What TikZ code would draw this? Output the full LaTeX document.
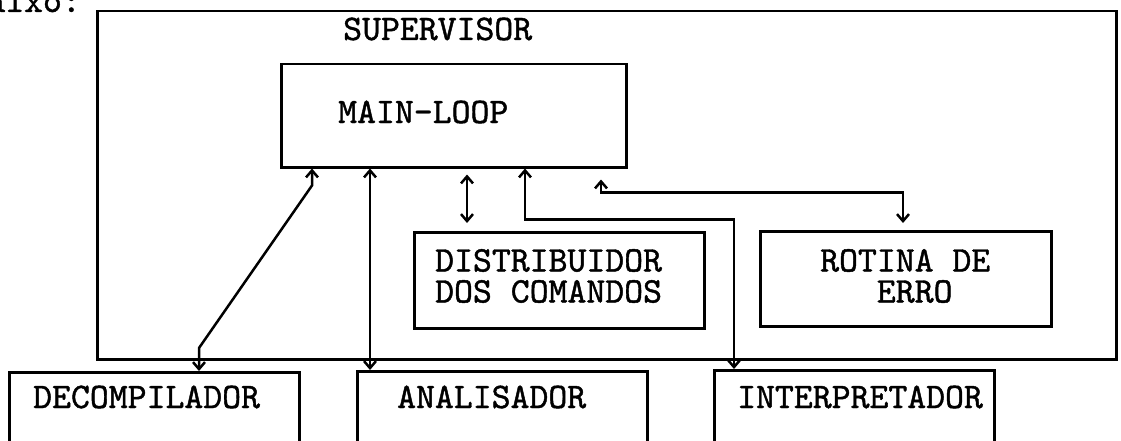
\documentclass[tikz,border=0pt]{standalone}
\usepackage{fontspec}
\newfontfamily\tw[FakeBold=1.2]{lmmono10-regular.otf}
\usetikzlibrary{arrows.meta}
\begin{document}
\begin{tikzpicture}[x=1pt,y=-1pt,
  box/.style={draw, line width=2.5pt, inner sep=0pt, anchor=north west},
  lbl/.style={font=\fontsize{36}{31}\selectfont\tw, inner sep=0pt, anchor=west, align=left},
  conn/.style={line width=2.5pt, arrows={Straight Barb[length=7pt,width=12pt]-Straight Barb[length=7pt,width=12pt]}},
]
\useasboundingbox (0,0) rectangle (1121,441);
\clip (0,0) rectangle (1121,441);
% fragment of preceding text line
\node[font=\fontsize{36}{31}\selectfont\tw, inner sep=0pt, anchor=base east] (prev) at (81,12) {abaixo:};
% boxes
\node[box, minimum width=1019pt, minimum height=348pt] (sup) at (96,10) {};
\node[box, minimum width=345pt, minimum height=103pt] (main) at (280,63) {};
\node[box, minimum width=290pt, minimum height=96pt] (dis) at (413,231) {};
\node[box, minimum width=291pt, minimum height=95pt] (rot) at (759,230) {};
\node[box, minimum width=290pt, minimum height=110pt] (dec) at (8,371) {};
\node[box, minimum width=290pt, minimum height=110pt] (ana) at (356,370) {};
\node[box, minimum width=280pt, minimum height=110pt] (int) at (713,369) {};
% texts
\node[lbl] (supT) at (343,29) {SUPERVISOR};
\node[lbl] (mainT) at (338,112) {MAIN-LOOP};
\node[lbl] (disT) at (435,276) {DISTRIBUIDOR\\DOS COMANDOS};
\node[lbl] (rotT) at (820,276) {ROTINA DE\\\hphantom{ROT}ERRO};
\node[lbl] (decT) at (33,397) {DECOMPILADOR};
\node[lbl] (anaT) at (397,397) {ANALISADOR};
\node[lbl] (intT) at (737,397) {INTERPRETADOR};
% connector positions
\coordinate (x1) at (312,0);
\coordinate (x1b) at (199,0);
\coordinate (x2) at (370,0);
\coordinate (x3) at (467,0);
\coordinate (x4) at (525,0);
\coordinate (x4b) at (734,0);
\coordinate (x5) at (601,0);
\coordinate (x5b) at (903,0);
% connectors
\draw[conn] (main.south -| x1) -- ++(0,17) -- (199,348) -- (dec.north -| x1b);
\draw[conn] (main.south -| x2) -- (ana.north -| x2);
\draw[conn, shorten <=6pt, shorten >=8pt] (main.south -| x3) -- (dis.north -| x3);
\draw[conn] (main.south -| x4) -- ++(0,51) -| (int.north -| x4b);
\draw[conn, shorten <=11pt, shorten >=7pt] (main.south -| x5) -- ++(0,24) -| (rot.north -| x5b);
\end{tikzpicture}
\end{document}
